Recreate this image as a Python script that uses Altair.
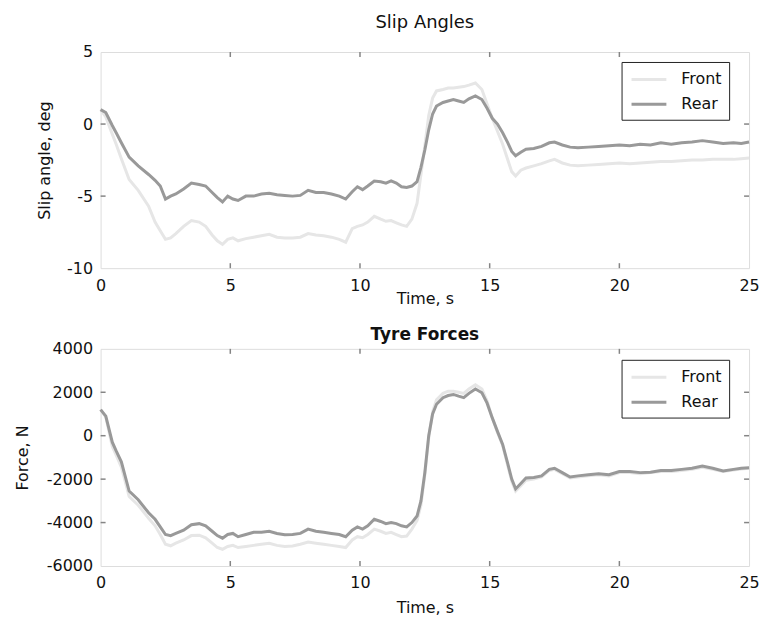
import altair as alt
import pandas as pd

time_s = [0, 0.2, 0.45, 0.6, 0.8, 1.1, 1.45, 1.85, 2.1, 2.3, 2.5, 2.7, 2.9, 3.2, 3.5, 3.8,
          4.05, 4.3, 4.5, 4.7, 4.9, 5.1, 5.3, 5.6, 5.9, 6.2, 6.5, 6.8, 7.1, 7.4, 7.7, 8.0,
          8.3, 8.6, 8.9, 9.2, 9.45, 9.7, 9.9, 10.1, 10.3, 10.55, 10.8, 11.0, 11.2, 11.4, 11.6,
          11.8, 12.0, 12.2, 12.35, 12.5, 12.65, 12.8, 12.95, 13.2, 13.4, 13.6, 13.8, 14.0,
          14.2, 14.45, 14.7, 14.9, 15.1, 15.3, 15.5, 15.7, 15.85, 16.0, 16.2, 16.4, 16.7,
          17.0, 17.3, 17.5, 17.8, 18.1, 18.4, 18.8, 19.2, 19.6, 20.0, 20.4, 20.8, 21.2, 21.6,
          22.0, 22.4, 22.8, 23.2, 23.6, 24.0, 24.4, 24.7, 25.0]

slip_front = [1.0, 0.5, -0.7, -1.4, -2.4, -3.85, -4.6, -5.7, -6.8, -7.4, -8.0, -7.9, -7.6, -7.1,
              -6.7, -6.8, -7.1, -7.7, -8.1, -8.35, -8.0, -7.9, -8.1, -7.95, -7.85, -7.75, -7.65,
              -7.85, -7.9, -7.9, -7.85, -7.6, -7.7, -7.75, -7.85, -8.0, -8.2, -7.25, -7.1, -7.0,
              -6.8, -6.4, -6.6, -6.75, -6.7, -6.85, -7.0, -7.1, -6.6, -5.5, -3.5, -1.5, 0.6, 1.8,
              2.3, 2.4, 2.5, 2.5, 2.55, 2.6, 2.7, 2.85, 2.4, 1.4, 0.4, -0.5, -1.4, -2.5, -3.3,
              -3.6, -3.2, -3.05, -2.9, -2.75, -2.55, -2.45, -2.7, -2.85, -2.9, -2.85, -2.8, -2.75,
              -2.7, -2.75, -2.7, -2.65, -2.6, -2.6, -2.55, -2.5, -2.5, -2.45, -2.45, -2.45, -2.4,
              -2.35]

slip_rear = [1.0, 0.8, -0.1, -0.6, -1.3, -2.3, -2.9, -3.5, -3.9, -4.3, -5.2, -5.0, -4.85, -4.5,
             -4.1, -4.2, -4.3, -4.75, -5.1, -5.4, -5.0, -5.2, -5.3, -5.0, -5.0, -4.85, -4.8, -4.9,
             -4.95, -5.0, -4.95, -4.6, -4.75, -4.75, -4.85, -5.0, -5.2, -4.7, -4.35, -4.55, -4.3,
             -3.95, -4.0, -4.1, -3.95, -4.1, -4.35, -4.4, -4.3, -4.0, -3.0, -1.8, -0.4, 0.7, 1.25,
             1.5, 1.6, 1.7, 1.6, 1.5, 1.75, 1.95, 1.7, 1.1, 0.4, 0.0, -0.6, -1.3, -1.9, -2.2,
             -1.95, -1.75, -1.7, -1.55, -1.3, -1.25, -1.45, -1.6, -1.65, -1.6, -1.55, -1.5, -1.45,
             -1.5, -1.4, -1.45, -1.3, -1.4, -1.3, -1.25, -1.15, -1.25, -1.35, -1.3, -1.35, -1.25]

force_front = [1200, 850, -500, -900, -1450, -2800, -3200, -3800, -4150, -4550, -5000, -5070,
               -4950, -4800, -4600, -4580, -4700, -4950, -5150, -5230, -5100, -5050, -5150, -5100,
               -5050, -5000, -4950, -5050, -5100, -5080, -5000, -4900, -4950, -5000, -5050, -5100,
               -5150, -4800, -4650, -4700, -4550, -4300, -4400, -4500, -4450, -4550, -4650, -4620,
               -4300, -3900, -3200, -1800, -100, 1100, 1650, 1950, 2050, 2050, 2000, 1950, 2150,
               2350, 2150, 1600, 820, 150, -450, -1400, -2100, -2550, -2300, -2050, -2000, -1900,
               -1600, -1550, -1750, -1950, -1900, -1850, -1800, -1850, -1700, -1700, -1750, -1700,
               -1650, -1650, -1600, -1550, -1450, -1550, -1650, -1580, -1530, -1500]

force_rear = [1200, 900, -300, -700, -1200, -2550, -2950, -3550, -3850, -4200, -4550, -4600,
              -4500, -4350, -4100, -4050, -4150, -4400, -4600, -4720, -4550, -4500, -4650, -4550,
              -4450, -4450, -4400, -4500, -4560, -4550, -4500, -4300, -4400, -4450, -4500, -4550,
              -4650, -4350, -4200, -4300, -4150, -3850, -3950, -4050, -4000, -4050, -4150, -4200,
              -4000, -3700, -3000, -1700, 0, 1000, 1450, 1750, 1850, 1900, 1820, 1750, 1950, 2150,
              1980, 1500, 820, 200, -400, -1300, -2000, -2450, -2200, -1950, -1920, -1850, -1550,
              -1500, -1700, -1900, -1850, -1800, -1750, -1800, -1650, -1650, -1700, -1680, -1600,
              -1600, -1550, -1500, -1400, -1500, -1620, -1550, -1500, -1480]

series = ["Front", "Rear"]
series_colors = ["#e6e6e6", "#999999"]
x_ticks = [0, 5, 10, 15, 20, 25]
slip_ticks = [-10, -5, 0, 5]
force_ticks = [-6000, -4000, -2000, 0, 2000, 4000]

FONT = "DejaVu Sans"
W = 651
FRAME = "#858585"
LBL = "datum.value < 0 ? '-' + format(-datum.value, 'd') : format(datum.value, 'd')"


def long_df(a, b):
    return pd.DataFrame({
        "t": time_s + time_s,
        "v": a + b,
        "s": ["Front"] * len(a) + ["Rear"] * len(b),
    })


def panel(df, yticks, ytitle, title, bold, h, ttl_pad, xl_pad, xt_pad, title_off, leg_y):
    xs = alt.Scale(domain=[0, 25], nice=False, zero=False)
    ys = alt.Scale(domain=[yticks[0], yticks[-1]], nice=False, zero=False)
    lines = alt.Chart(df).mark_line(strokeWidth=3).encode(
        x=alt.X("t:Q", scale=xs, title="Time, s",
                axis=alt.Axis(values=x_ticks, tickSize=0, domain=False, grid=False,
                              labelExpr=LBL, labelFontSize=16, labelFont=FONT,
                              labelColor="#111", labelPadding=xl_pad, labelFlush=False,
                              titleFont=FONT, titleFontSize=16,
                              titleFontWeight="normal", titleColor="#111",
                              titlePadding=xt_pad)),
        y=alt.Y("v:Q", scale=ys, title=ytitle,
                axis=alt.Axis(values=yticks, tickSize=0, domain=False, grid=False,
                              labelExpr=LBL, labelFontSize=16, labelFont=FONT,
                              labelColor="#111", labelPadding=8, labelFlush=False,
                              titleFont=FONT, titleFontSize=16,
                              titleFontWeight="normal", titleColor="#111",
                              titlePadding=ttl_pad)),
        color=alt.Color("s:N", scale=alt.Scale(domain=series, range=series_colors),
                        legend=alt.Legend(title=None, orient="none", legendX=W - 128,
                                          legendY=leg_y, strokeColor="#222",
                                          fillColor="white", padding=7,
                                          symbolType="M-2,0H2", symbolSize=306,
                                          symbolStrokeWidth=3, labelFont=FONT,
                                          labelFontSize=16, labelColor="#111",
                                          labelExpr="datum.label + '\u00a0\u00a0\u00a0'",
                                          labelOffset=22, rowPadding=6,
                                          symbolOffset=10)),
        order=alt.Order("s:N"),
        detail="s:N",
    )
    tx = pd.DataFrame({"t": x_ticks[1:-1]})
    ty = pd.DataFrame({"v": yticks[1:-1]})
    tick_style = dict(color=FRAME, strokeWidth=1.5)
    xt_top = alt.Chart(tx).mark_rule(**tick_style).encode(
        x=alt.X("t:Q", scale=xs), y=alt.value(0), y2=alt.value(5))
    xt_bot = alt.Chart(tx).mark_rule(**tick_style).encode(
        x=alt.X("t:Q", scale=xs), y=alt.value(h - 5), y2=alt.value(h))
    yt_l = alt.Chart(ty).mark_rule(**tick_style).encode(
        y=alt.Y("v:Q", scale=ys), x=alt.value(0), x2=alt.value(5))
    yt_r = alt.Chart(ty).mark_rule(**tick_style).encode(
        y=alt.Y("v:Q", scale=ys), x=alt.value(W - 5), x2=alt.value(W))
    return alt.layer(lines, xt_top, xt_bot, yt_l, yt_r).properties(
        width=W, height=h,
        title=alt.Title(title, font=FONT, fontSize=18 if not bold else 17,
                        fontWeight="bold" if bold else "normal", color="#111",
                        offset=title_off, anchor="middle"),
    )


top = panel(long_df(slip_front, slip_rear), slip_ticks, "Slip angle, deg", "Slip Angles",
            False, 217, 14, 9, -3, 12, 10)
bot = panel(long_df(force_front, force_rear), force_ticks, "Force, N", "Tyre Forces",
            True, 218, 16, 9, 9, -3, 11)

chart = alt.vconcat(top, bot, spacing=18).resolve_scale(
    color="independent"
).resolve_legend(
    color="independent"
).properties(
    padding={"left": 14, "top": 12, "right": 5, "bottom": 2}
).configure_view(stroke=FRAME, strokeWidth=1.5).configure(background="white")

chart.save("out.html", embed_options={"renderer": "svg", "actions": False})
